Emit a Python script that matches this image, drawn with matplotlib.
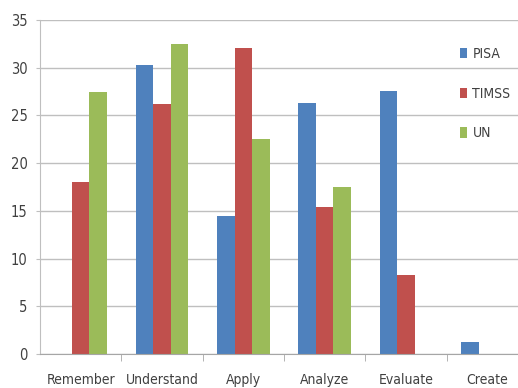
import numpy as np
import matplotlib
matplotlib.use('Agg')
import matplotlib.pyplot as plt
from matplotlib.ticker import FixedLocator

plt.rcParams['font.family'] = ['DejaVu Sans']
plt.rcParams['font.stretch'] = 'condensed'

### -------- data -------------------
categories = ['Remember', 'Understand', 'Apply', 'Analyze', 'Evaluate', 'Create']
pisa = [0.0, 30.3, 14.5, 26.3, 27.6, 1.3]
timss = [18.0, 26.2, 32.1, 15.4, 8.3, 0.0]
un = [27.5, 32.5, 22.5, 17.5, 0.0, 0.0]
series_names = ['PISA', 'TIMSS', 'UN']

colors = ['#4F81BD', '#C0504D', '#9BBB59']

### ---------------- plot -----------
fig = plt.figure(figsize=(5.18, 3.88), dpi=100)
# axes run a little past the right edge of the figure
ax = fig.add_axes([40/518., 34/388., 488/518., 334/388.])

x = np.arange(len(categories))
w = 0.215
for k, (vals, c) in enumerate(zip([pisa, timss, un], colors)):
	ax.bar(x + (k-1)*w, vals, width=w, color=c, label=series_names[k], zorder=3)

ax.set_xlim(-0.5, len(categories)-0.5)
ax.set_ylim(0, 35)
ax.set_yticks(np.arange(0, 36, 5))
ax.set_xticks(x)
ax.set_xticklabels(categories, fontsize=10, color='#404040')
ax.tick_params(axis='y', labelsize=10.5, length=3, color='#bfbfbf', pad=6, labelcolor='#404040')
ax.tick_params(axis='x', which='major', length=0, pad=14)
ax.xaxis.set_minor_locator(FixedLocator(np.arange(0.5, len(categories)-0.5, 1)))
ax.tick_params(axis='x', which='minor', length=5, color='#a6a6a6', direction='out')

ax.grid(axis='y', color='#bfbfbf', linewidth=1.0, zorder=0)
for s in ['top', 'right']:
	ax.spines[s].set_visible(False)
ax.spines['left'].set_color('#bfbfbf')
ax.spines['bottom'].set_color('#a6a6a6')
ax.spines['bottom'].set_zorder(4)

leg = ax.legend(loc='upper left', bbox_to_anchor=(460/518., 1-47/388.),
		bbox_transform=fig.transFigure, frameon=False, borderpad=0, borderaxespad=0,
		fontsize=10, handlelength=0.5, handleheight=0.8, handletextpad=0.4,
		labelspacing=1.85)
for t in leg.get_texts():
	t.set_color('#404040')

plt.savefig('out.png', dpi=100)
plt.close()
